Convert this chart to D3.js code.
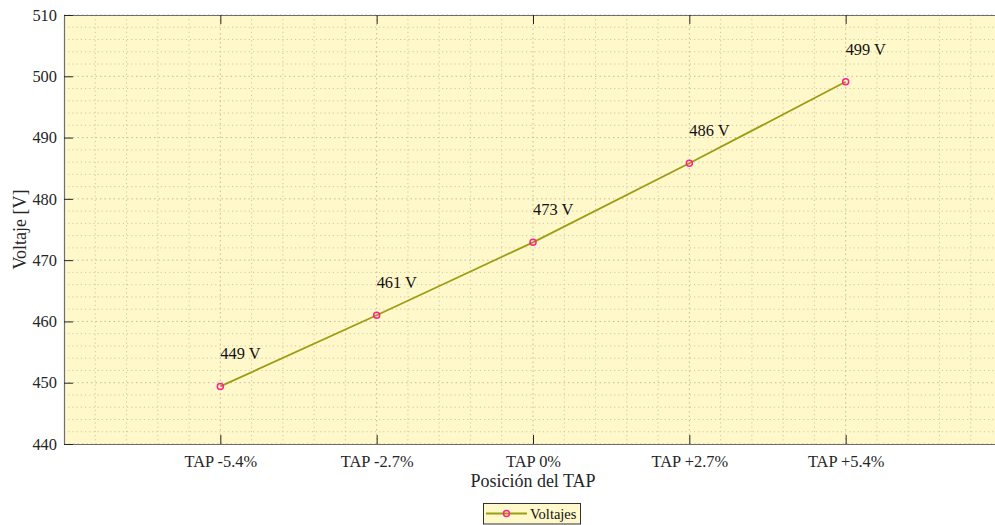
<!DOCTYPE html>
<html>
<head>
<meta charset="utf-8">
<script src="https://cdn.jsdelivr.net/npm/d3@7"></script>
<style>
  html, body { margin: 0; padding: 0; background: #ffffff; }
  svg { display: block; }
  svg text { font-family: "Liberation Serif", "Times New Roman", serif; }
</style>
</head>
<body>
<svg id="chart" width="995" height="525"></svg>
<script>
// Voltage at each transformer tap position
const categories = ["TAP -5.4%", "TAP -2.7%", "TAP 0%", "TAP +2.7%", "TAP +5.4%"];
const voltages = [449.4, 461.0, 472.9, 485.8, 499.1];
const yTicks = [440, 450, 460, 470, 480, 490, 500, 510];
const seriesName = "Voltajes";
const xTitle = "Posición del TAP";
const yTitle = "Voltaje [V]";

const SERIF = "'Liberation Serif', 'Times New Roman', serif";
const plot = { left: 64, right: 1002, top: 15, bottom: 444 };
const bg = "#fff8cb";
const lineColor = "#9d9d14";
const markerColor = "#ff1f8f";
const axisColor = "#6e6e6e";
const textColor = "#262626";
const tickFont = 16.4;

const svg = d3.select("#chart");

const x = d3.scaleLinear().domain([0, categories.length + 1]).range([plot.left, plot.right]);
const y = d3.scaleLinear().domain([440, 510]).range([plot.bottom, plot.top]);

// plot background
svg.append("rect")
  .attr("x", plot.left).attr("y", plot.top)
  .attr("width", plot.right - plot.left).attr("height", plot.bottom - plot.top)
  .attr("fill", bg);

// grid: minor and major, dotted
const grid = svg.append("g");
const xMinor = d3.range(0, categories.length + 1 + 1e-6, 0.2).filter(v => Math.abs(v - Math.round(v)) > 1e-6);
const yMinor = d3.range(440, 510, 2).filter(v => v % 10 !== 0);
const xMajor = categories.map((c, i) => i + 1);
const yMajor = yTicks;

grid.selectAll("line.xminor").data(xMinor).join("line")
  .attr("x1", d => x(d)).attr("x2", d => x(d))
  .attr("y1", plot.top).attr("y2", plot.bottom)
  .attr("stroke", "#cfc9a0").attr("stroke-width", 1).attr("stroke-dasharray", "1.2,3");
grid.selectAll("line.yminor").data(yMinor).join("line")
  .attr("y1", d => y(d)).attr("y2", d => y(d))
  .attr("x1", plot.left).attr("x2", plot.right)
  .attr("stroke", "#cfc9a0").attr("stroke-width", 1).attr("stroke-dasharray", "1.2,3");
grid.selectAll("line.xmajor").data(xMajor).join("line")
  .attr("x1", d => x(d)).attr("x2", d => x(d))
  .attr("y1", plot.top).attr("y2", plot.bottom)
  .attr("stroke", "#c4be96").attr("stroke-width", 1).attr("stroke-dasharray", "1.5,3");
grid.selectAll("line.ymajor").data(yMajor).join("line")
  .attr("y1", d => y(d)).attr("y2", d => y(d))
  .attr("x1", plot.left).attr("x2", plot.right)
  .attr("stroke", "#c4be96").attr("stroke-width", 1).attr("stroke-dasharray", "1.5,3");

// axes with inward ticks
const yAxis = d3.axisLeft(y).tickValues(yTicks).tickFormat(d3.format("d"))
  .tickSizeInner(-9).tickSizeOuter(0).tickPadding(7);
const xAxis = d3.axisBottom(x).tickValues(xMajor).tickFormat(d => categories[d - 1])
  .tickSizeInner(-9).tickSizeOuter(0).tickPadding(11);
const xTop = d3.axisTop(x).tickValues(xMajor).tickFormat("")
  .tickSizeInner(-9).tickSizeOuter(0);

function styleAxis(g) {
  g.attr("font-family", null).attr("font-size", null);
  g.select(".domain").attr("stroke", axisColor).attr("stroke-width", 1.2);
  g.selectAll(".tick line").attr("stroke", "#262626").attr("stroke-width", 1);
  g.selectAll(".tick text").attr("fill", textColor)
    .style("font-family", SERIF).style("font-size", tickFont + "px");
}

svg.append("g").attr("transform", `translate(0,${plot.top})`).call(xTop).call(styleAxis);
svg.append("g").attr("transform", `translate(0,${plot.bottom})`).call(xAxis).call(styleAxis);
svg.append("g").attr("transform", `translate(${plot.left},0)`).call(yAxis).call(styleAxis);

// axis titles
svg.append("text")
  .attr("x", x((categories.length + 1) / 2)).attr("y", 487)
  .attr("text-anchor", "middle").attr("fill", textColor)
  .style("font-family", SERIF).style("font-size", "18px").text(xTitle);
svg.append("text")
  .attr("transform", `translate(26,${(plot.top + plot.bottom) / 2}) rotate(-90)`)
  .attr("text-anchor", "middle").attr("fill", textColor)
  .style("font-family", SERIF).style("font-size", "18px").text(yTitle);

// series line and markers
const pts = voltages.map((v, i) => ({ cx: i + 1, v }));
const line = d3.line().x(d => x(d.cx)).y(d => y(d.v));
svg.append("path").datum(pts)
  .attr("d", line).attr("fill", "none")
  .attr("stroke", lineColor).attr("stroke-width", 1.8);
svg.selectAll("circle.pt").data(pts).join("circle")
  .attr("cx", d => x(d.cx)).attr("cy", d => y(d.v)).attr("r", 3)
  .attr("fill", "none").attr("stroke", markerColor).attr("stroke-width", 1.5);

// value labels
const fmt = d3.format(".0f");
svg.selectAll("text.val").data(pts).join("text")
  .attr("class", "val")
  .attr("x", d => x(d.cx)).attr("y", d => y(d.v) - 27)
  .attr("fill", "#111")
  .style("font-family", SERIF).style("font-size", tickFont + "px")
  .text(d => `${fmt(d.v)} V`);

// legend
const lg = svg.append("g");
lg.append("rect").attr("x", 483.5).attr("y", 503.5).attr("width", 97).attr("height", 20.5)
  .attr("fill", bg).attr("stroke", "#333").attr("stroke-width", 1);
lg.append("line").attr("x1", 486).attr("x2", 527).attr("y1", 513.5).attr("y2", 513.5)
  .attr("stroke", lineColor).attr("stroke-width", 1.8);
lg.append("circle").attr("cx", 506.5).attr("cy", 513.5).attr("r", 3)
  .attr("fill", "none").attr("stroke", markerColor).attr("stroke-width", 1.5);
lg.append("text").attr("x", 530).attr("y", 519).attr("fill", "#111")
  .style("font-family", SERIF).style("font-size", "14.5px").text(seriesName);
</script>
</body>
</html>
